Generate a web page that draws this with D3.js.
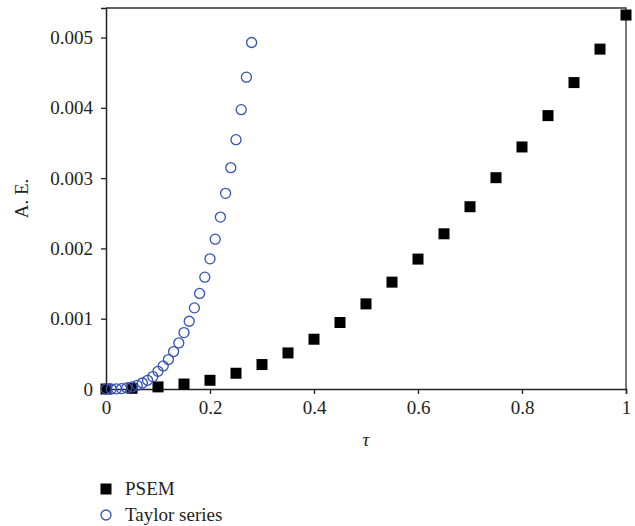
<!DOCTYPE html>
<html>
<head>
<meta charset="utf-8">
<script src="https://cdn.jsdelivr.net/npm/d3@7"></script>
<style>
  body { margin: 0; background: #fff; }
  text { font-family: "Liberation Serif", "DejaVu Serif", serif; fill: #231f20; }
</style>
</head>
<body>
<script>
// PSEM series, tau = 0, 0.05, ..., 1
var psemTau = [0, 0.05, 0.1, 0.15, 0.2, 0.25, 0.3, 0.35, 0.4, 0.45, 0.5,
               0.55, 0.6, 0.65, 0.7, 0.75, 0.8, 0.85, 0.9, 0.95, 1];
var psemAE = [0, 0.00001, 0.00003, 0.000071, 0.000124, 0.000224, 0.000348,
              0.000513, 0.000708, 0.000946, 0.001211, 0.00152, 0.001848,
              0.002208, 0.002593, 0.003006, 0.003443, 0.003889, 0.004359,
              0.004835, 0.00532];

// Taylor series, tau = 0, 0.01, ..., 0.28
var taylorTau = [0, 0.01, 0.02, 0.03, 0.04, 0.05, 0.06, 0.07, 0.08, 0.09,
                 0.1, 0.11, 0.12, 0.13, 0.14, 0.15, 0.16, 0.17, 0.18, 0.19,
                 0.2, 0.21, 0.22, 0.23, 0.24, 0.25, 0.26, 0.27, 0.28];
var taylorAE = [0, 0, 0.000002, 0.000006, 0.000015, 0.00003, 0.000052,
                0.000085, 0.000124, 0.000177, 0.000252, 0.000328, 0.000419,
                0.000533, 0.000655, 0.000803, 0.000964, 0.001154, 0.001359,
                0.001591, 0.001852, 0.002132, 0.002446, 0.002783, 0.003148,
                0.003547, 0.003974, 0.004436, 0.004929];

var xTicks = [0, 0.2, 0.4, 0.6, 0.8, 1];
var yTicks = [0, 0.001, 0.002, 0.003, 0.004, 0.005];
var seriesNames = ["PSEM", "Taylor series"];

var w = 635, h = 526;
var margin = {left: 106, right: 9, top: 8, bottom: 137};

var svg = d3.select("body").append("svg")
    .attr("width", w)
    .attr("height", h);

var x = d3.scaleLinear()
    .domain([0, 1])
    .range([margin.left, w - margin.right]);

var y = d3.scaleLinear()
    .domain([0, 0.00542])
    .range([h - margin.bottom, margin.top]);

var blue = "#3452b0";

// frame: top and right lines
svg.append("path")
    .attr("d", "M" + x(0) + "," + y.range()[1] + "H" + x(1) + "V" + y(0))
    .attr("fill", "none")
    .attr("stroke", "#333")
    .attr("stroke-width", 1.3);

var xAxis = svg.append("g")
    .attr("transform", "translate(0," + y(0) + ")")
    .call(d3.axisBottom(x).tickValues(xTicks).tickSize(5).tickPadding(7)
        .tickFormat(function(d) { return d === 0 || d === 1 ? d : d3.format(".1f")(d); }));

var yAxis = svg.append("g")
    .attr("transform", "translate(" + x(0) + ",0)")
    .call(d3.axisLeft(y).tickValues(yTicks).tickSize(5).tickPadding(8)
        .tickFormat(function(d) { return d === 0 ? "0" : d3.format(".3f")(d); }));

[xAxis, yAxis].forEach(function(a) {
  a.select(".domain").attr("stroke", "#222").attr("stroke-width", 1.5);
  a.selectAll(".tick line").attr("stroke", "#222").attr("stroke-width", 1.3);
  a.selectAll("text")
    .attr("font-size", 19)
    .attr("fill", "#231f20");
});

// axis titles
svg.append("text")
    .attr("x", (x(0) + x(1)) / 2)
    .attr("y", 446)
    .attr("text-anchor", "middle")
    .attr("font-size", 19)
    .attr("font-style", "italic")
    .text("\u03c4");

svg.append("text")
    .attr("transform", "translate(28," + ((y(0) + y.range()[1]) / 2) + ") rotate(-90)")
    .attr("text-anchor", "middle")
    .attr("font-size", 19)
    .text("A. E.");

// PSEM squares
var sq = 11;
svg.append("g").selectAll("rect")
    .data(psemTau)
    .enter().append("rect")
    .attr("x", function(d) { return x(d) - sq / 2; })
    .attr("y", function(d, i) { return y(psemAE[i]) - sq / 2; })
    .attr("width", sq)
    .attr("height", sq)
    .attr("fill", "#000");

// Taylor circles
svg.append("g").selectAll("circle")
    .data(taylorTau)
    .enter().append("circle")
    .attr("cx", function(d) { return x(d); })
    .attr("cy", function(d, i) { return y(taylorAE[i]); })
    .attr("r", 5)
    .attr("fill", "none")
    .attr("stroke", blue)
    .attr("stroke-width", 1.3);

// legend
var leg = svg.append("g").attr("transform", "translate(106,489)");
leg.append("rect")
    .attr("x", -sq / 2).attr("y", -sq / 2)
    .attr("width", sq).attr("height", sq)
    .attr("fill", "#000");
leg.append("text")
    .attr("x", 19).attr("y", 6)
    .attr("font-size", 19)
    .text(seriesNames[0]);
leg.append("circle")
    .attr("cx", 0).attr("cy", 26)
    .attr("r", 5)
    .attr("fill", "none")
    .attr("stroke", blue)
    .attr("stroke-width", 1.3);
leg.append("text")
    .attr("x", 19).attr("y", 32)
    .attr("font-size", 19)
    .text(seriesNames[1]);
</script>
</body>
</html>
